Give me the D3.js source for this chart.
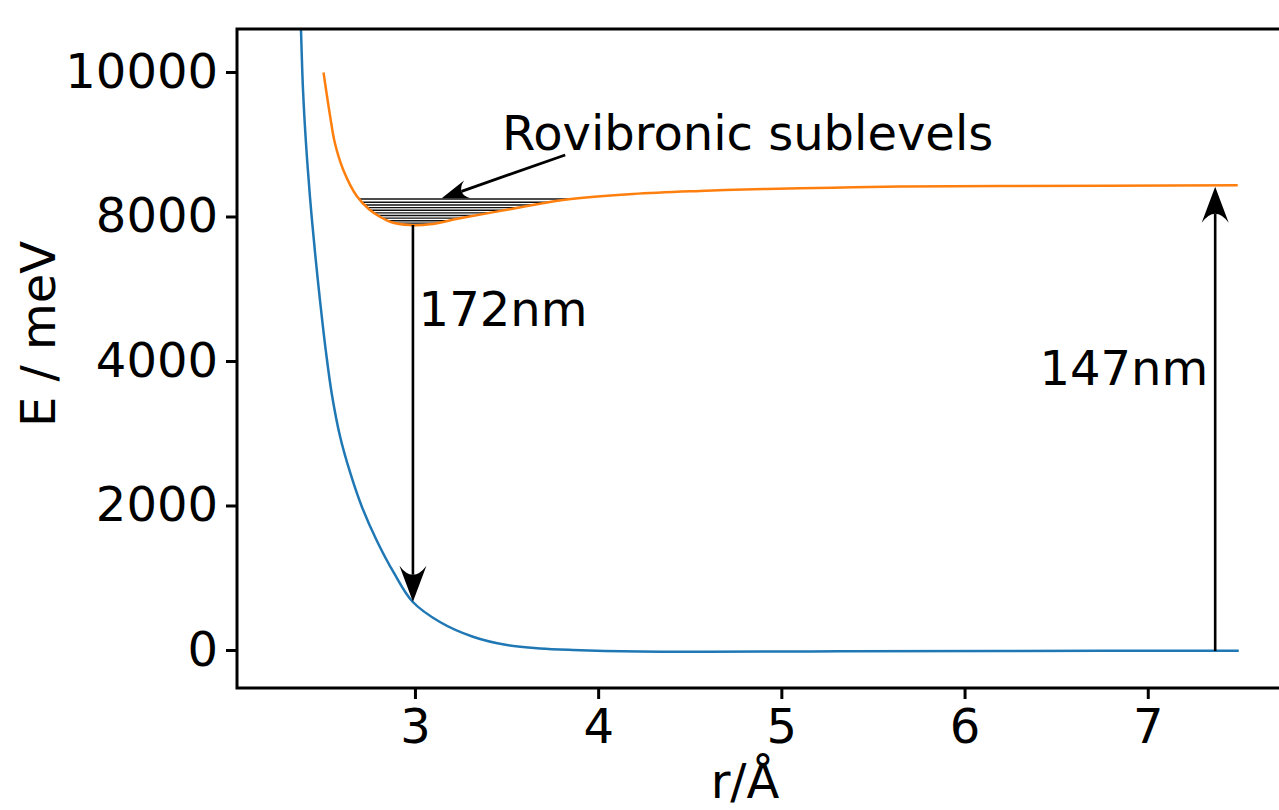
<!DOCTYPE html>
<html>
<head>
<meta charset="utf-8">
<script src="https://cdn.jsdelivr.net/npm/d3@7"></script>
<style>
  body { margin: 0; background: #fff; }
  svg { display: block; font-family: "DejaVu Sans", sans-serif; }
</style>
</head>
<body>
<svg id="chart" width="1279" height="810"></svg>
<script>
// ground state potential (r in Angstrom, E in plot units)
const groundCurve = [
    [2.3757, 8789], [2.3779, 8595], [2.3888, 7765], [2.4052, 7017], [2.4270, 6270],
    [2.4543, 5509], [2.4816, 4844], [2.5143, 4125], [2.5471, 3529], [2.5907, 2962],
    [2.6453, 2464], [2.7108, 1979], [2.7926, 1509], [2.8854, 1066], [2.9874, 668],
    [3.1364, 388], [3.3165, 184], [3.5020, 69], [3.6821, 21], [3.8622, 0],
    [4.2278, -21], [4.5935, -24], [5.3193, -18], [6.1924, -14], [7.4966, -10]
];

// excited state potential
const excitedCurve = [
    [2.501, 7993], [2.536, 7405], [2.563, 7017], [2.609, 6644], [2.682, 6284],
    [2.754, 6090], [2.809, 5997], [2.864, 5928], [2.973, 5882], [3.082, 5892],
    [3.246, 5975], [3.518, 6100], [3.808, 6228], [4.190, 6311], [4.555, 6353],
    [4.921, 6381], [5.281, 6399], [5.647, 6415], [6.192, 6422], [7.491, 6432]
];

// rovibronic sublevel energies inside the excited well
const sublevels = [6242, 6198, 6160, 6123, 6087, 6050, 6013, 5977, 5941, 5908];

const xTicks = [3, 4, 5, 6, 7];
const yTicks = [0, 2000, 4000, 6000, 8000];
const yTickLabels = ["0", "2000", "4000", "8000", "10000"];

// transitions: r, start E, end E, label
const transitions = [
    {r: 2.989, from: 5882, to: 668, label: "172nm", lr: 3.02, le: 4480, anchor: "start"},
    {r: 7.368, from: -14, to: 6412, label: "147nm", lr: 7.33, le: 3668, anchor: "end"}
];

const note = {text: "Rovibronic sublevels", tr: 3.475, te: 6920, fromR: 3.82, fromE: 6851, toR: 3.146, toE: 6252};

const svg = d3.select("#chart");

const x = d3.scaleLinear().domain([2.0287, 7.76]).range([237, 1287]);
const y = d3.scaleLinear().domain([-526, 8595]).range([688, 29]);

svg.append("defs").append("clipPath").attr("id", "plot-clip")
    .append("rect")
    .attr("x", x.range()[0]).attr("y", y.range()[1])
    .attr("width", x.range()[1] - x.range()[0])
    .attr("height", y.range()[0] - y.range()[1]);

const plot = svg.append("g").attr("clip-path", "url(#plot-clip)");

const line = d3.line()
    .x(d => x(d[0]))
    .y(d => y(d[1]))
    .curve(d3.curveCatmullRom.alpha(0.5));

// excited path first (hidden helper) so the sublevels can be clipped to it
const excitedPath = plot.append("path")
    .datum(excitedCurve)
    .attr("d", line)
    .attr("fill", "none")
    .attr("stroke", "none");

// sample the drawn curve to find where each sublevel meets the well walls
const node = excitedPath.node();
const total = node.getTotalLength();
const samples = d3.range(0, total, 0.5).map(l => node.getPointAtLength(l));

function crossings(py)
{
    const hits = [];
    for (let i = 1; i < samples.length; i++)
    {
        const a = samples[i - 1], b = samples[i];
        if ((a.y - py) * (b.y - py) <= 0 && a.y !== b.y)
        {
            hits.push(a.x + (py - a.y) / (b.y - a.y) * (b.x - a.x));
        }
    }
    return hits;
}

plot.selectAll("line.sublevel")
    .data(sublevels)
    .join("line")
    .attr("class", "sublevel")
    .each(function (d) {
        const hits = crossings(y(d));
        d3.select(this)
            .attr("x1", hits[0])
            .attr("x2", hits[hits.length - 1])
            .attr("y1", y(d))
            .attr("y2", y(d));
    })
    .attr("stroke", "#111")
    .attr("stroke-width", 1.4);

plot.append("path")
    .datum(groundCurve)
    .attr("d", line)
    .attr("fill", "none")
    .attr("stroke", "#1f77b4")
    .attr("stroke-width", 2.5);

plot.append("path")
    .datum(excitedCurve)
    .attr("d", line)
    .attr("fill", "none")
    .attr("stroke", "#ff7f0e")
    .attr("stroke-width", 2.5);

// arrow head with a concave back, tip at (tx, ty)
function arrowHead(tx, ty, ux, uy, len, half, notch)
{
    const nx = -uy, ny = ux;
    const bx = tx - len * ux, by = ty - len * uy;
    const cx = tx - (len - 2 * notch) * ux, cy = ty - (len - 2 * notch) * uy;
    return `M${tx},${ty}L${bx + half * nx},${by + half * ny}` +
        `Q${cx},${cy} ${bx - half * nx},${by - half * ny}Z`;
}

function drawArrow(x1, y1, x2, y2, len, half, notch, width)
{
    const dx = x2 - x1, dy = y2 - y1;
    const d = Math.hypot(dx, dy);
    const ux = dx / d, uy = dy / d;
    svg.append("line")
        .attr("x1", x1).attr("y1", y1)
        .attr("x2", x2 - (len - notch) * ux).attr("y2", y2 - (len - notch) * uy)
        .attr("stroke", "#000")
        .attr("stroke-width", width);
    svg.append("path")
        .attr("d", arrowHead(x2, y2, ux, uy, len, half, notch))
        .attr("fill", "#000");
}

transitions.forEach(t => {
    drawArrow(x(t.r), y(t.from), x(t.r), y(t.to), 36, 13.5, 9, 2.6);
    svg.append("text")
        .attr("x", x(t.lr))
        .attr("y", y(t.le))
        .attr("text-anchor", t.anchor)
        .attr("font-size", 48)
        .text(t.label);
});

drawArrow(x(note.fromR), y(note.fromE), x(note.toR), y(note.toE), 27, 9.5, 6, 2.8);
svg.append("text")
    .attr("x", x(note.tr))
    .attr("y", y(note.te))
    .attr("font-size", 48)
    .text(note.text);

// axes
const xAxis = svg.append("g")
    .attr("transform", `translate(0,${y.range()[0]})`)
    .call(d3.axisBottom(x).tickValues(xTicks).tickFormat(d3.format("d")).tickSize(11).tickPadding(10));

const yAxis = svg.append("g")
    .attr("transform", `translate(${x.range()[0]},0)`)
    .call(d3.axisLeft(y).tickValues(yTicks).tickFormat((d, i) => yTickLabels[i]).tickSize(11).tickPadding(8));

[xAxis, yAxis].forEach(g => {
    g.select(".domain").remove();
    g.selectAll(".tick line").attr("stroke", "#000").attr("stroke-width", 3);
    g.selectAll(".tick text")
        .attr("fill", "#000")
        .attr("font-size", 48)
        .attr("font-family", "DejaVu Sans, sans-serif");
});

// spines: left, bottom, top (right spine falls outside the picture)
svg.append("path")
    .attr("d", `M${x.range()[1]},${y.range()[1]}H${x.range()[0]}V${y.range()[0]}H${x.range()[1]}`)
    .attr("fill", "none")
    .attr("stroke", "#000")
    .attr("stroke-width", 3)
    .attr("stroke-linecap", "square");

svg.append("text")
    .attr("transform", `translate(55,334) rotate(-90)`)
    .attr("text-anchor", "middle")
    .attr("font-size", 48)
    .text("E / meV");

svg.append("text")
    .attr("x", 745)
    .attr("y", 798)
    .attr("text-anchor", "middle")
    .attr("font-size", 48)
    .text("r/Å");
</script>
</body>
</html>
